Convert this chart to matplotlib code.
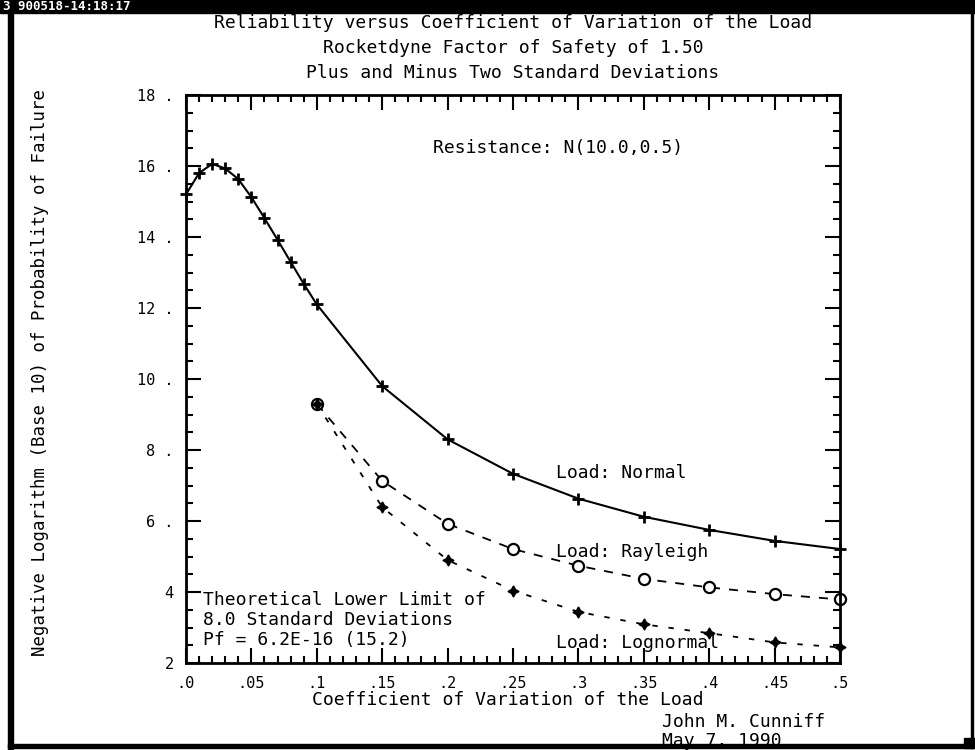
import matplotlib
matplotlib.use("Agg")
import matplotlib.pyplot as plt
from matplotlib.patches import Rectangle
from matplotlib.ticker import MultipleLocator, FixedLocator

plt.rcParams['font.family'] = 'DejaVu Sans Mono'

# coefficient of variation of the load
cov_normal = [0.0, 0.01, 0.02, 0.03, 0.04, 0.05, 0.06, 0.07, 0.08, 0.09,
              0.10, 0.15, 0.20, 0.25, 0.30, 0.35, 0.40, 0.45, 0.50]
# -log10(Pf)
pf_normal = [15.2, 15.8, 16.06, 15.93, 15.63, 15.12, 14.53, 13.92, 13.30, 12.68,
             12.1, 9.8, 8.3, 7.33, 6.63, 6.12, 5.75, 5.44, 5.21]

cov_tail = [0.10, 0.15, 0.20, 0.25, 0.30, 0.35, 0.40, 0.45, 0.50]
pf_rayleigh = [9.3, 7.13, 5.92, 5.21, 4.74, 4.37, 4.13, 3.94, 3.79]
pf_lognormal = [9.3, 6.39, 4.9, 4.04, 3.44, 3.09, 2.84, 2.58, 2.44]

xticks = [0.0, 0.05, 0.1, 0.15, 0.2, 0.25, 0.3, 0.35, 0.4, 0.45, 0.5]
xticklabels = ['.0', '.05', '.1', '.15', '.2', '.25', '.3', '.35', '.4', '.45', '.5']
yticks = [2, 4, 6, 8, 10, 12, 14, 16, 18]
yticklabels = ['2', '4', '6 .', '8 .', '10 .', '12 .', '14 .', '16 .', '18 .']

title_lines = ["Reliability versus Coefficient of Variation of the Load",
               "Rocketdyne Factor of Safety of 1.50",
               "Plus and Minus Two Standard Deviations"]
limit_lines = ["Theoretical Lower Limit of",
               "8.0 Standard Deviations",
               "Pf = 6.2E-16 (15.2)"]

W, H = 975.0, 750.0
fig = plt.figure(figsize=(9.75, 7.5), dpi=100)
fig.patch.set_facecolor('white')

# scanned page frame
fig.add_artist(Rectangle((0, 1 - 13 / H), 1, 13 / H, transform=fig.transFigure,
                         color='black', zorder=10))
fig.add_artist(Rectangle((8 / W, 0), 5 / W, 1, transform=fig.transFigure,
                         color='black', zorder=10))
fig.add_artist(Rectangle((8 / W, 2 / H), 965 / W, 4 / H, transform=fig.transFigure,
                         color='black', zorder=10))
fig.add_artist(Rectangle((971 / W, 2 / H), 2 / W, 1, transform=fig.transFigure,
                         color='black', zorder=10))
fig.add_artist(Rectangle((964 / W, 2 / H), 11 / W, 10 / H, transform=fig.transFigure,
                         color='black', zorder=10))
fig.text(3 / W, 1 - 7 / H, "3 900518-14:18:17", color='white', fontsize=9,
         fontweight='bold', va='center', ha='left', zorder=11)

ax = fig.add_axes([186 / W, 87 / H, 654 / W, 568 / H])

ax.plot(cov_normal, pf_normal, color='black', lw=1.5, marker='+', ms=8, mew=2,
        clip_on=False)
ax.plot(cov_tail, pf_rayleigh, color='black', lw=1.3, ls=(0, (5, 5)), marker='o',
        ms=8, mfc='white', mew=1.6, clip_on=False)
ax.plot(cov_tail, pf_lognormal, color='black', lw=1.3, ls=(0, (3, 6)),
        marker=(4, 1, 0), ms=8, mfc='black', clip_on=False)

ax.set_xlim(0, 0.5)
ax.set_ylim(2, 18)
ax.xaxis.set_major_locator(FixedLocator(xticks))
ax.set_xticklabels(xticklabels)
ax.xaxis.set_minor_locator(MultipleLocator(0.01))
ax.yaxis.set_major_locator(FixedLocator(yticks))
ax.set_yticklabels(yticklabels)
ax.yaxis.set_minor_locator(MultipleLocator(0.5))
ax.tick_params(which='both', direction='in', top=True, right=True, width=1.5)
ax.tick_params(which='major', length=11, labelsize=11)
ax.tick_params(which='minor', length=5)
ax.tick_params(axis='x', pad=9)
ax.tick_params(axis='y', pad=9)
for s in ax.spines.values():
    s.set_linewidth(2)

ax.text(0.189, 16.51, "Resistance: N(10.0,0.5)", fontsize=13, va='center')
ax.text(0.2826, 7.36, "Load: Normal", fontsize=13, va='center')
ax.text(0.2826, 5.14, "Load: Rayleigh", fontsize=13, va='center')
ax.text(0.2826, 2.57, "Load: Lognormal", fontsize=13, va='center')
for i, line in enumerate(limit_lines):
    ax.text(0.013, 3.77 - i * 0.56, line, fontsize=13, va='center')

for i, line in enumerate(title_lines):
    fig.text(513 / W, 1 - (23 + 25 * i) / H, line, fontsize=13, ha='center', va='center')

fig.text(40 / W, 1 - 373 / H, "Negative Logarithm (Base 10) of Probability of Failure",
         fontsize=12.5, rotation=90, ha='center', va='center')
fig.text(508 / W, 1 - 700 / H, "Coefficient of Variation of the Load",
         fontsize=13, ha='center', va='center')
fig.text(662 / W, 1 - 722 / H, "John M. Cunniff", fontsize=13, ha='left', va='center')
fig.text(662 / W, 1 - 741 / H, "May 7, 1990", fontsize=13, ha='left', va='center')

fig.savefig('out.png', dpi=100)
